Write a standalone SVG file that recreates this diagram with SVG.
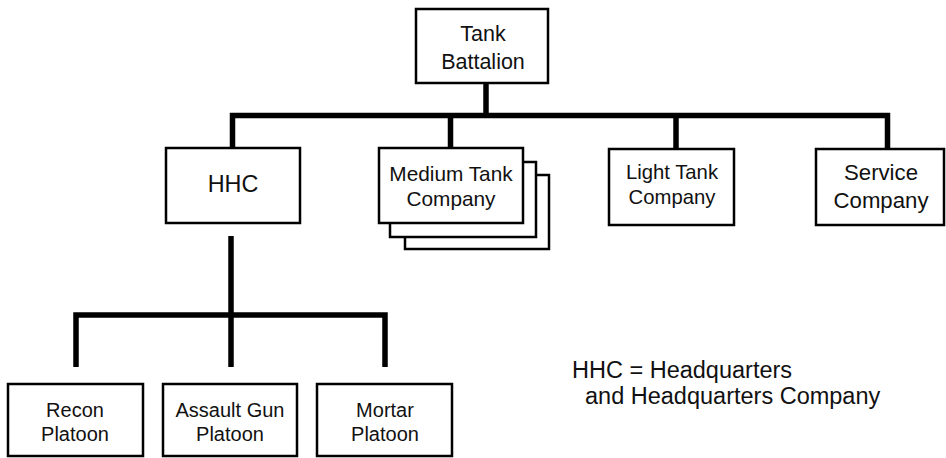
<svg xmlns="http://www.w3.org/2000/svg" width="946" height="458" viewBox="0 0 946 458">
<style>
  .box { fill: #fff; stroke: #000; stroke-width: 2.5; }
  .t { font-family: "Liberation Sans", Arial, sans-serif; fill: #111; text-anchor: middle; }
  .conn { fill: none; stroke: #000; stroke-width: 5.5; stroke-linejoin: miter; stroke-linecap: butt; }
  .legend { font-family: "Liberation Sans", Arial, sans-serif; fill: #111; font-size: 23.5px; }
</style>
<rect width="946" height="458" fill="#fff"/>
<g id="connectors">
  <path class="conn" d="M486,83 V115.5"/>
  <path class="conn" d="M232.5,148 V115.5 H887.5 V149"/>
  <path class="conn" d="M450.5,115.5 V148"/>
  <path class="conn" d="M676,115.5 V149"/>
  <path class="conn" d="M231,236 V367"/>
  <path class="conn" d="M76,367 V315 H385 V367"/>
</g>
<g id="tank-battalion">
  <rect class="box" x="416" y="9" width="132" height="74"/>
  <text class="t" x="483" y="41" font-size="21.5">Tank</text>
  <text class="t" x="483" y="69" font-size="21.5">Battalion</text>
</g>
<g id="hhc">
  <rect class="box" x="166" y="148" width="134" height="75"/>
  <text class="t" x="233" y="192" font-size="23.4">HHC</text>
</g>
<g id="medium-tank-company">
  <rect class="box" x="405" y="175" width="144" height="74"/>
  <rect class="box" x="390" y="162" width="146" height="75"/>
  <rect class="box" x="379" y="148" width="144" height="75"/>
  <text class="t" x="451" y="181" font-size="20.8">Medium Tank</text>
  <text class="t" x="451" y="206" font-size="20.8">Company</text>
</g>
<g id="light-tank-company">
  <rect class="box" x="609" y="149" width="125" height="76"/>
  <text class="t" x="672" y="179" font-size="20.3">Light Tank</text>
  <text class="t" x="672" y="204" font-size="20.3">Company</text>
</g>
<g id="service-company">
  <rect class="box" x="816" y="149" width="128" height="76"/>
  <text class="t" x="881" y="180" font-size="22.2">Service</text>
  <text class="t" x="881" y="208" font-size="22.2">Company</text>
</g>
<g id="recon-platoon">
  <rect class="box" x="8" y="384" width="135" height="72"/>
  <text class="t" x="75" y="417" font-size="20">Recon</text>
  <text class="t" x="75" y="441" font-size="20">Platoon</text>
</g>
<g id="assault-gun-platoon">
  <rect class="box" x="163" y="384" width="134" height="72"/>
  <text class="t" x="230" y="417" font-size="20">Assault Gun</text>
  <text class="t" x="230" y="441" font-size="20">Platoon</text>
</g>
<g id="mortar-platoon">
  <rect class="box" x="317" y="384" width="135" height="72"/>
  <text class="t" x="385" y="417" font-size="20">Mortar</text>
  <text class="t" x="385" y="441" font-size="20">Platoon</text>
</g>
<g id="legend">
  <text class="legend" x="572" y="378">HHC = Headquarters</text>
  <text class="legend" x="585" y="404">and Headquarters Company</text>
</g>
</svg>
